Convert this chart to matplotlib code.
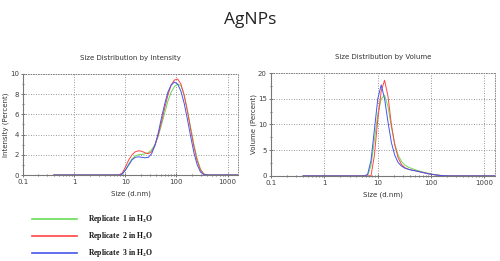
import numpy as np
import matplotlib.pyplot as plt
from matplotlib.lines import Line2D
from matplotlib.ticker import LogLocator, MultipleLocator, FixedLocator

plt.rcParams['mathtext.fontset'] = 'stix'

# Malvern size classes (d.nm)
size = [0.4, 0.4632, 0.5365, 0.6213, 0.7195, 0.8332, 0.9649, 1.117, 1.294, 1.499,
        1.736, 2.01, 2.328, 2.696, 3.122, 3.615, 4.187, 4.849, 5.615, 6.503,
        7.531, 8.721, 10.1, 11.7, 13.54, 15.69, 18.17, 21.04, 24.36, 28.21,
        32.67, 37.84, 43.82, 50.75, 58.77, 68.06, 78.82, 91.28, 105.7, 122.4,
        141.8, 164.2, 190.1, 220.2, 255.0, 295.3, 342.0, 396.1, 458.7, 531.2,
        615.1, 712.4, 825.0, 955.4, 1106, 1281, 1484, 1718]

# intensity distribution (%)
int_rep1 = [0, 0, 0, 0, 0, 0, 0, 0, 0, 0,
            0, 0, 0, 0, 0, 0, 0, 0, 0, 0,
            0, 0.1, 0.5, 1.1, 1.6, 1.9, 2.0, 2.05, 2.1, 2.2,
            2.5, 3.0, 3.8, 4.9, 6.1, 7.3, 8.2, 8.75, 9.0, 8.85,
            7.9, 6.4, 4.7, 3.0, 1.6, 0.6, 0.1, 0, 0, 0,
            0, 0, 0, 0, 0, 0, 0, 0]
int_rep2 = [0, 0, 0, 0, 0, 0, 0, 0, 0, 0,
            0, 0, 0, 0, 0, 0, 0, 0, 0, 0,
            0, 0.2, 0.8, 1.5, 2.0, 2.3, 2.4, 2.35, 2.2, 2.1,
            2.3, 2.9, 3.9, 5.2, 6.6, 7.9, 8.9, 9.4, 9.5, 9.0,
            7.9, 6.3, 4.5, 2.8, 1.4, 0.5, 0.1, 0, 0, 0,
            0, 0, 0, 0, 0, 0, 0, 0]
int_rep3 = [0, 0, 0, 0, 0, 0, 0, 0, 0, 0,
            0, 0, 0, 0, 0, 0, 0, 0, 0, 0,
            0, 0.1, 0.5, 1.0, 1.5, 1.75, 1.8, 1.75, 1.7, 1.75,
            2.1, 2.9, 4.1, 5.6, 7.0, 8.2, 8.9, 9.2, 9.0, 8.3,
            7.1, 5.5, 3.8, 2.2, 1.0, 0.3, 0.05, 0, 0, 0,
            0, 0, 0, 0, 0, 0, 0, 0]

# volume distribution (%)
vol_rep1 = [0, 0, 0, 0, 0, 0, 0, 0, 0, 0,
            0, 0, 0, 0, 0, 0, 0, 0, 0, 0,
            2.0, 7.0, 12.0, 15.0, 15.7, 13.5, 9.5, 6.2, 4.0, 2.8,
            2.1, 1.7, 1.45, 1.2, 1.0, 0.8, 0.65, 0.5, 0.35, 0.22,
            0.13, 0.06, 0.02, 0, 0, 0, 0, 0, 0, 0,
            0, 0, 0, 0, 0, 0, 0, 0]
vol_rep2 = [0, 0, 0, 0, 0, 0, 0, 0, 0, 0,
            0, 0, 0, 0, 0, 0, 0, 0, 0, 0,
            0, 4.0, 11.0, 16.5, 18.6, 15.5, 10.0, 6.0, 3.5, 2.2,
            1.6, 1.3, 1.15, 1.0, 0.85, 0.7, 0.55, 0.4, 0.3, 0.2,
            0.12, 0.06, 0.02, 0, 0, 0, 0, 0, 0, 0,
            0, 0, 0, 0, 0, 0, 0, 0]
vol_rep3 = [0, 0, 0, 0, 0, 0, 0, 0, 0, 0,
            0, 0, 0, 0, 0, 0, 0, 0, 0, 0.3,
            3.0, 9.0, 15.0, 17.7, 15.0, 10.5, 6.5, 4.0, 2.6, 1.9,
            1.5, 1.3, 1.1, 1.0, 0.85, 0.7, 0.55, 0.4, 0.3, 0.2,
            0.12, 0.07, 0.03, 0.01, 0, 0, 0, 0, 0, 0,
            0, 0, 0, 0, 0, 0, 0, 0]

labels = ['1', '2', '3']
colors = ['#66dd55', '#ff4444', '#4455ee']
tick_col = '#404040'

fig = plt.figure(figsize=(5, 2.61), dpi=100)
fig.text(0.5, 0.925, 'AgNPs', ha='center', va='center', fontsize=12.5,
         family='Open Sans', color='#222222')


def style(ax, ymax, ystep, title, ylabel):
    ax.set_xscale('log')
    ax.set_xlim(0.1, 1600)
    ax.set_ylim(0, ymax)
    ax.xaxis.set_major_locator(FixedLocator([0.1, 1, 10, 100, 1000]))
    ax.xaxis.set_minor_locator(LogLocator(base=10, subs=np.arange(2, 10)))
    ax.set_xticklabels(['0.1', '1', '10', '100', '1000'])
    ax.xaxis.set_minor_formatter(plt.NullFormatter())
    ax.yaxis.set_major_locator(MultipleLocator(ystep))
    ax.yaxis.set_minor_locator(MultipleLocator(ystep / 2))
    ax.tick_params(which='both', labelsize=5, colors=tick_col, direction='inout',
                   length=3, width=0.5, pad=1.5)
    ax.tick_params(which='minor', length=2)
    ax.grid(True, which='major', linestyle=(0, (1, 2)), color='#777777', linewidth=0.6)
    for s in ['top', 'right']:
        ax.spines[s].set_linestyle((0, (1, 2)))
        ax.spines[s].set_color('#777777')
        ax.spines[s].set_linewidth(0.6)
    for s in ['left', 'bottom']:
        ax.spines[s].set_color('#777777')
        ax.spines[s].set_linewidth(0.8)
    ax.set_title(title, fontsize=5, color='#333333', pad=10)
    ax.set_xlabel('Size (d.nm)', fontsize=5, color='#333333', labelpad=4)
    ax.set_ylabel(ylabel, fontsize=5, color='#333333', labelpad=0.5)


ax1 = fig.add_axes([0.046, 0.3295, 0.43, 0.387])
for yv, c in zip([int_rep1, int_rep2, int_rep3], colors):
    ax1.plot(size, yv, color=c, linewidth=0.7)
style(ax1, 10, 2, 'Size Distribution by Intensity', 'Intensity (Percent)')

ax2 = fig.add_axes([0.542, 0.326, 0.448, 0.394])
for yv, c in zip([vol_rep1, vol_rep2, vol_rep3], colors):
    ax2.plot(size, yv, color=c, linewidth=0.7)
style(ax2, 20, 5, 'Size Distribution by Volume', 'Volume (Percent)')

# legend drawn below the left plot
leg_y = [219, 236, 253]
for lab, c, yp in zip(labels, colors, leg_y):
    yf = 1 - yp / 261
    fig.add_artist(Line2D([32 / 500, 77 / 500], [yf, yf], color=c, linewidth=1.2,
                          transform=fig.transFigure))
    fig.text(88 / 500, yf, r'Replicate  %s in H$_\mathbf{2}$O' % lab, fontsize=5.5,
             family='Liberation Serif', weight='bold', va='center', color='#111111')

fig.savefig('out.png', dpi=100)
